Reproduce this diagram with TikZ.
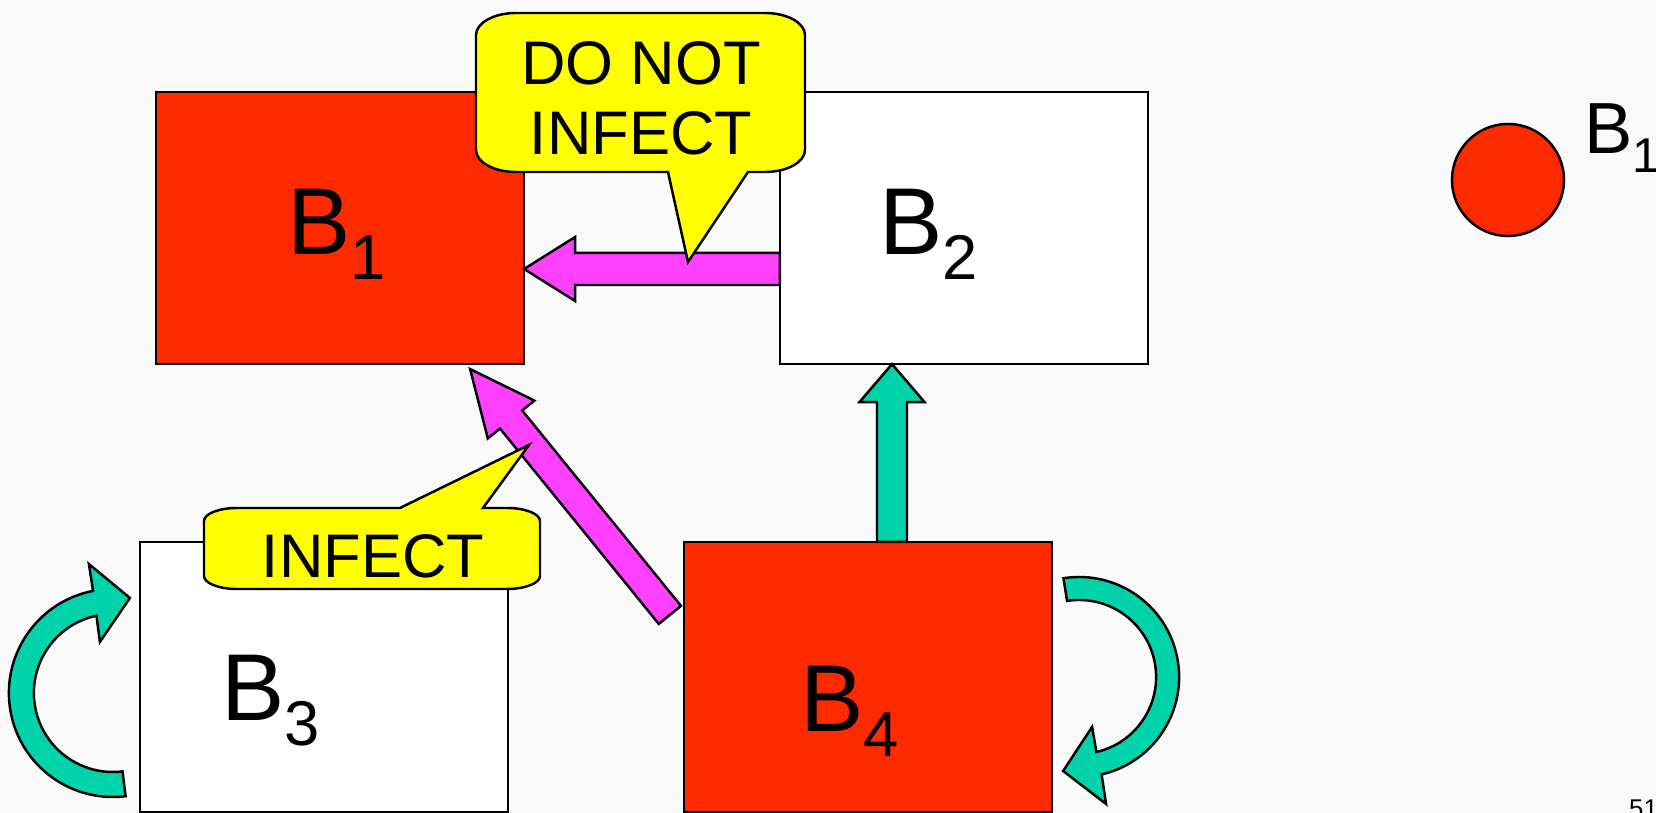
\documentclass[tikz,border=0pt]{standalone}
\usepackage{fontspec}
\setmainfont{Liberation Sans}
\usetikzlibrary{calc}
\definecolor{cred}{HTML}{FF2A00}
\definecolor{cmag}{HTML}{FF40FF}
\definecolor{cteal}{HTML}{00D2AA}
\definecolor{cyel}{HTML}{FFFF00}
\definecolor{cbg}{HTML}{FAFAFA}
\tikzset{
  every picture/.style={line width=0.7pt},
  blk/.style={draw, fill=#1, minimum width=3.68cm, minimum height=2.72cm, inner sep=0pt, outer sep=0pt},
  blk/.default=white,
  lab/.style={anchor=base west, inner sep=0pt, font=\fontsize{27pt}{27pt}\selectfont},
  bubble/.style={draw, fill=cyel},
  say/.style={align=center, inner sep=0pt, font=\fontsize{17.5pt}{19.9pt}\selectfont},
  selfarrow/.style={draw, fill=cteal},
}
\newcommand{\blab}[2]{B\raisebox{-0.26em}{\fontsize{#2}{#2}\selectfont #1}}
% fill, tail, tip, half shaft, half head, head length
\newcommand{\blockarrow}[6]{%
  \coordinate (bh) at ($(#3)!#6!(#2)$);
  \draw[fill=#1] ($(#2)!#4!90:(#3)$) -- ($(bh)!#4!-90:(#2)$) -- ($(bh)!#5!-90:(#2)$) -- (#3)
    -- ($(bh)!#5!90:(#2)$) -- ($(bh)!#4!90:(#2)$) -- ($(#2)!#4!-90:(#3)$) -- cycle;
}

\begin{document}
\begin{tikzpicture}[x=0.01cm, y=-0.01cm]
  \useasboundingbox (0,0) rectangle (1656,813);
  \fill[cbg] (0,0) rectangle (1656,813);
  % blocks
  \node[blk=cred] (b1) at (340,228) {};
  \node[blk] (b2) at (964,228) {};
  \node[blk, minimum height=2.70cm] (b3) at (324,677) {};
  \node[blk=cred, minimum height=2.70cm] (b4) at (868,677) {};
  \node[lab] (lb1) at (286,255) {\blab{1}{18pt}};
  \node[lab] (lb2) at (878,255) {\blab{2}{18pt}};
  \node[lab] (lb3) at (220,721) {\blab{3}{18pt}};
  \node[lab] (lb4) at (799,732) {\blab{4}{18pt}};
  % infection arrows
  \coordinate (ht) at ($(b2.west)+(0,41)$);
  \coordinate (hh) at (b1.east |- ht);
  \blockarrow{cmag}{ht}{hh}{0.16cm}{0.32cm}{0.51cm}
  \coordinate (dt) at ($(b4.north west)+(-14,73)$);
  \coordinate (dh) at ($(b1.south east)+(-54,5)$);
  \blockarrow{cmag}{dt}{dh}{0.143cm}{0.30cm}{0.65cm}
  \coordinate (ut) at ($(b4.north)+(24,0)$);
  \coordinate (uh) at (ut |- b2.south);
  \blockarrow{cteal}{ut}{uh}{0.15cm}{0.325cm}{0.38cm}
  % self loops
  \begin{scope}[shift={($(b3.west)+(-27,16)$)}]
    \draw[selfarrow] (83:104) arc[start angle=83, end angle=259, radius=104] -- (-24,-129) -- (17,-95) -- (-13,-51)
      -- (258:79) arc[start angle=258, end angle=83, radius=79] -- cycle;
  \end{scope}
  \begin{scope}[shift={($(b4.east)+(27,0)$)}]
    \draw[selfarrow] (-99:100) arc[start angle=-99, end angle=77, radius=100] -- (27,127) -- (-16,94) -- (13,50)
      -- (77:77) arc[start angle=77, end angle=-99, radius=77] -- cycle;
  \end{scope}
  % callouts
  \draw[bubble] (516,13) -- (765,13) arc[start angle=270, end angle=360, x radius=40, y radius=22]
    -- (805,150) arc[start angle=0, end angle=90, x radius=40, y radius=22]
    -- (748,172) -- (688,262) -- (668,172)
    -- (516,172) arc[start angle=90, end angle=180, x radius=40, y radius=22]
    -- (476,35) arc[start angle=180, end angle=270, x radius=40, y radius=22] -- cycle;
  \node[say] (dni) at (641,98) {DO NOT\\INFECT};
  \draw[bubble] (237,508) -- (400,508) -- (529,445) -- (483,508)
    -- (507,508) arc[start angle=270, end angle=360, x radius=33, y radius=13]
    -- (540,576) arc[start angle=0, end angle=90, x radius=33, y radius=13]
    -- (237,589) arc[start angle=90, end angle=180, x radius=33, y radius=13]
    -- (204,521) arc[start angle=180, end angle=270, x radius=33, y radius=13] -- cycle;
  \node[say] (inf) at (373,556) {INFECT};
  % legend
  \node[circle, draw, fill=cred, minimum size=1.12cm, inner sep=0pt] (leg) at (1508,180) {};
  \node[lab, font=\fontsize{20.6pt}{20.6pt}\selectfont] (legb) at (1583,154) {\blab{1}{13.9pt}};
  \node[anchor=base west, inner sep=0pt, font=\fontsize{7.3pt}{7.3pt}\selectfont] (pg) at (1628,818) {51};
\end{tikzpicture}
\end{document}
